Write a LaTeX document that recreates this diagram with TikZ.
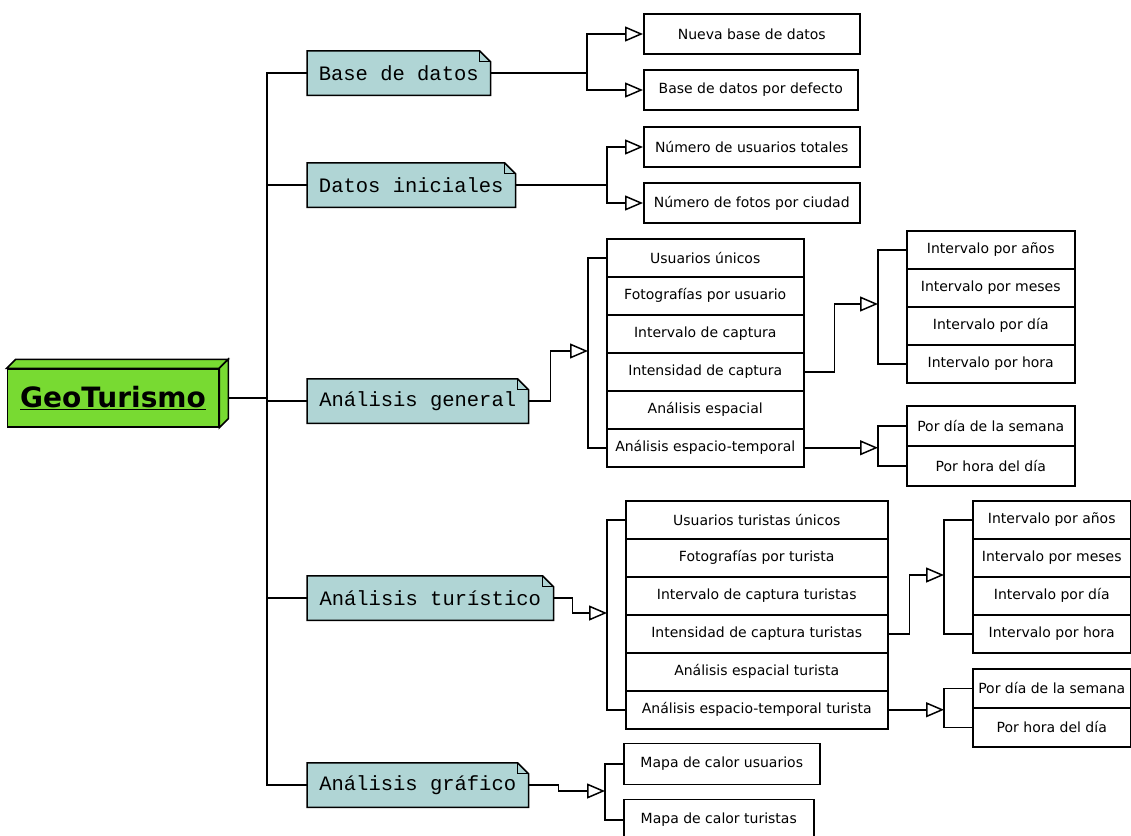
\documentclass[tikz,border=0pt]{standalone}
\usepackage{fontspec}
\setmainfont{DejaVu Sans}
\newfontfamily\notefont{Liberation Mono}
\usetikzlibrary{arrows.meta,positioning,backgrounds}
\definecolor{rootgreen}{RGB}{120,218,50}
\definecolor{notecyan}{RGB}{176,213,213}

\begin{document}
\begin{tikzpicture}[x=1pt, y=-1pt, line width=1.5pt,
        rootbox/.style={draw, fill=rootgreen, minimum width=211pt, minimum height=58pt, inner sep=0pt,
          font=\bfseries\fontsize{28}{30}\selectfont},
        notebox/.style={minimum height=43pt, inner sep=0pt, anchor=west,
          font=\notefont\fontsize{20.5}{22}\selectfont},
        itembox/.style={draw, fill=white, minimum height=40pt, inner sep=0pt, anchor=west,
          font=\fontsize{14}{16}\selectfont},
        rowbox/.style={draw, fill=white, inner sep=0pt, anchor=north west,
          font=\fontsize{14}{16}\selectfont},
        tip/.style={-{Triangle[open, length=18pt, width=15pt]}}]

        \useasboundingbox (0,0) rectangle (1131,835);

        % root
        \node[rootbox] (root) at (113,398) {\underline{GeoTurismo}};
        \draw[fill=rootgreen] (root.north west) -- ++(9,-9) -- ([shift={(9,-9)}]root.north east) -- (root.north east) -- cycle;
        \draw[fill=rootgreen] (root.north east) -- ++(9,-9) -- ([shift={(9,-9)}]root.south east) -- (root.south east) -- cycle;

        % notes
        \node[notebox, minimum width=182pt] (nbase) at (307,73) {Base de datos};
        \node[notebox, minimum width=207pt] (ndat) at (307,185) {Datos iniciales};
        \node[notebox, minimum width=220pt] (ngen) at (307,401) {Análisis general};
        \node[notebox, minimum width=245pt] (ntur) at (307,598) {Análisis turístico};
        \node[notebox, minimum width=220pt] (ngra) at (307,785) {Análisis gráfico};
        \begin{scope}[on background layer]
          \foreach \n in {nbase,ndat,ngen,ntur,ngra} {
            \draw[line width=1.5pt, fill=notecyan] (\n.south west) -- (\n.north west) -- ([xshift=-11pt]\n.north east)
              -- ([yshift=-11pt]\n.north east) -- (\n.south east) -- cycle;
            \draw[line width=1pt] ([xshift=-11pt]\n.north east) |- ([yshift=-11pt]\n.north east);
          }
        \end{scope}

        % trunk
        \coordinate (trunk) at (267,398);
        \draw ([xshift=9pt]root.east) -- (trunk);
        \draw (trunk) |- (nbase.west);
        \draw (trunk) |- (ndat.west);
        \draw (trunk) |- (ngen.west);
        \draw (trunk) |- (ntur.west);
        \draw (trunk) |- (ngra.west);

        % base de datos
        \node[itembox, minimum width=216pt] (bnew) at (643,34) {Nueva base de datos};
        \node[itembox, minimum width=214pt] (bdef) at (643,90) {Base de datos por defecto};
        \coordinate (fbase) at (587,73);
        \draw (nbase.east) -- (fbase);
        \draw[tip] (fbase) |- (bnew.west);
        \draw[tip] (fbase) |- (bdef.west);

        % datos iniciales
        \node[itembox, minimum width=216pt] (dusr) at (643,147) {Número de usuarios totales};
        \node[itembox, minimum width=216pt] (dfot) at (643,203) {Número de fotos por ciudad};
        \coordinate (fdat) at (607,185);
        \draw (ndat.east) -- (fdat);
        \draw[tip] (fdat) |- (dusr.west);
        \draw[tip] (fdat) |- (dfot.west);

        % analisis general
        \foreach \t [count=\i] in {Usuarios únicos, Fotografías por usuario, Intervalo de captura,
            Intensidad de captura, Análisis espacial, Análisis espacio-temporal}
          \node[rowbox, minimum width=197pt, minimum height=38pt] (g\i) at (606,{238+38*(\i-1)}) {\t};
        \coordinate (fgen) at (588,351);
        \draw[tip] (ngen.east) -- ++(22,0) |- (fgen);
        \draw (g1.west) -- ++(-18,0) |- (g6.west);

        \foreach \t [count=\i] in {Intervalo por años, Intervalo por meses, Intervalo por día, Intervalo por hora}
          \node[rowbox, minimum width=168pt, minimum height=38pt] (h\i) at (906,{230+38*(\i-1)}) {\t};
        \coordinate (fint) at (878,304);
        \draw[tip] (g4.east) -- ++(30,0) |- (fint);
        \draw (h1.west) -- ++(-28,0) |- (h4.west);

        \foreach \t [count=\i] in {Por día de la semana, Por hora del día}
          \node[rowbox, minimum width=168pt, minimum height=40pt] (e\i) at (906,{405+40*(\i-1)}) {\t};
        \coordinate (fesp) at (878,446);
        \draw[tip] (g6.east) -- (g6.east -| fesp);
        \draw (e1.west) -- ++(-28,0) |- (e2.west);

        % analisis turistico
        \foreach \t [count=\i] in {Usuarios turistas únicos, Fotografías por turista, Intervalo de captura turistas,
            Intensidad de captura turistas, Análisis espacial turista, Análisis espacio-temporal turista}
          \node[rowbox, minimum width=262pt, minimum height=38pt] (t\i) at (625,{500+38*(\i-1)}) {\t};
        \coordinate (ftur) at (607,613);
        \draw[tip] (ntur.east) -- ++(19,0) |- (ftur);
        \draw (t1.west) -- ++(-18,0) |- (t6.west);

        \foreach \t [count=\i] in {Intervalo por años, Intervalo por meses, Intervalo por día, Intervalo por hora}
          \node[rowbox, minimum width=158pt, minimum height=38pt] (u\i) at (972,{500+38*(\i-1)}) {\t};
        \coordinate (ftint) at (944,575);
        \draw[tip] (t4.east) -- ++(21,0) |- (ftint);
        \draw (u1.west) -- ++(-28,0) |- (u4.west);

        \foreach \t [count=\i] in {Por día de la semana, Por hora del día}
          \node[rowbox, minimum width=158pt, minimum height=39pt] (v\i) at (972,{668+39*(\i-1)}) {\t};
        \coordinate (ftesp) at (944,708);
        \draw[tip] (t6.east) -- (t6.east -| ftesp);
        \draw (v1.west) -- ++(-28,0) |- (v2.west);

        % analisis grafico
        \node[itembox, minimum width=196pt, minimum height=41pt] (musr) at (623,764) {Mapa de calor usuarios};
        \node[itembox, minimum width=190pt, minimum height=41pt] (mtur) at (623,820) {Mapa de calor turistas};
        \coordinate (fgra) at (605,791);
        \draw[tip] (ngra.east) -- ++(30,0) |- (fgra);
        \draw (musr.west) -- ++(-18,0) |- (mtur.west);
\end{tikzpicture}
\end{document}
